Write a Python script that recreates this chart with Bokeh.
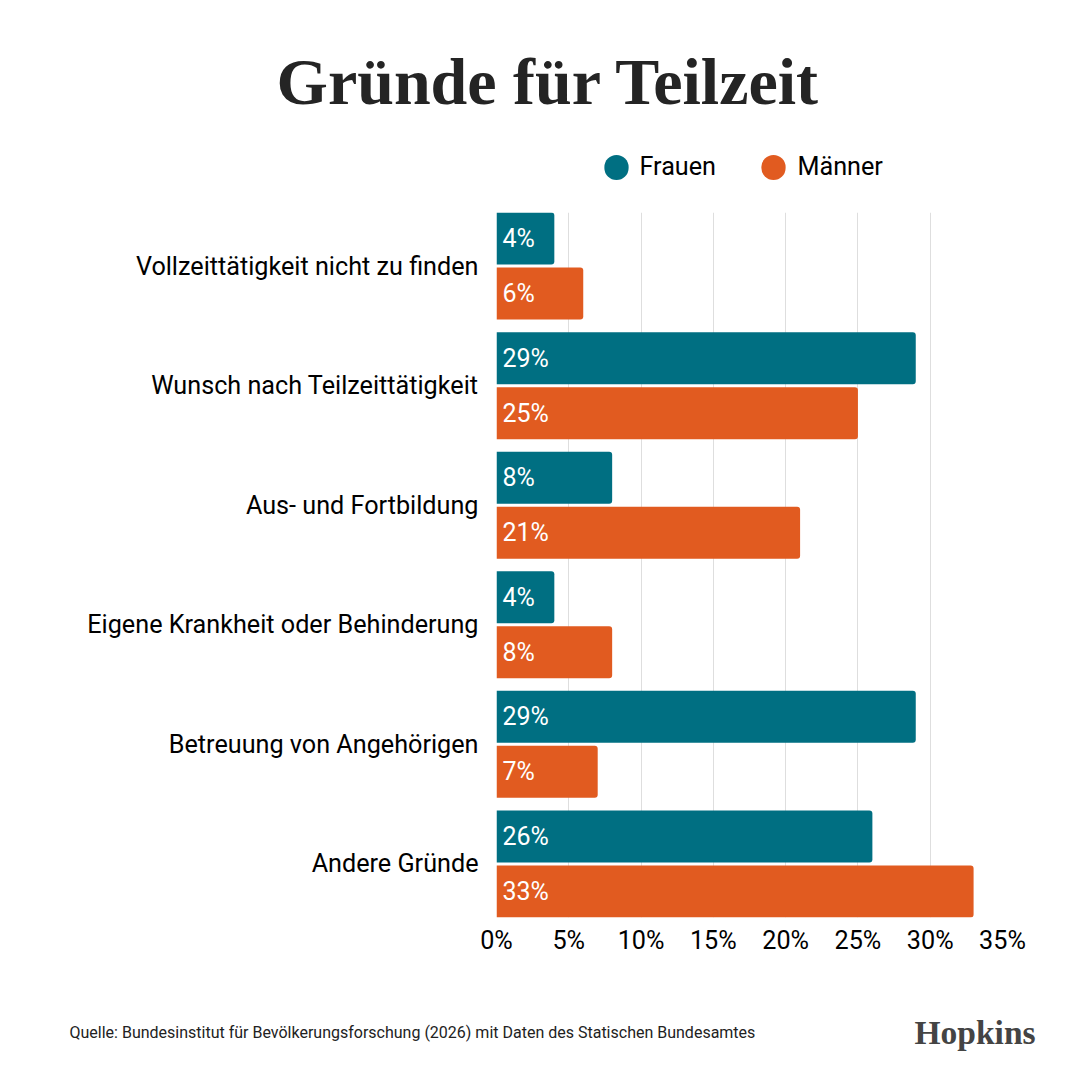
from bokeh.embed import file_html
from bokeh.resources import INLINE
from bokeh.plotting import figure
from bokeh.core.properties import value
from bokeh.models import (ColumnDataSource, FactorRange, Range1d, LabelSet, Label,
                          FixedTicker, PrintfTickFormatter)
from bokeh.transform import dodge

categories = ["Vollzeittätigkeit nicht zu finden", "Wunsch nach Teilzeittätigkeit", "Aus- und Fortbildung",
              "Eigene Krankheit oder Behinderung", "Betreuung von Angehörigen", "Andere Gründe"]
frauen = [4, 29, 8, 4, 29, 26]
maenner = [6, 25, 21, 8, 7, 33]
x_ticks = [0, 5, 10, 15, 20, 25, 30, 35]
title_text = "Gründe für Teilzeit"
source_text = "Quelle: Bundesinstitut für Bevölkerungsforschung (2026) mit Daten des Statischen Bundesamtes"
logo_text = "Hopkins"
legend_names = ["Frauen", "Männer"]

TEAL = "#006F82"
ORANGE = "#E15B20"
FONT = "Roboto"

src = ColumnDataSource(dict(
    cat=categories, frauen=frauen, maenner=maenner,
    frauen_txt=[f"{v}%" for v in frauen], maenner_txt=[f"{v}%" for v in maenner],
    zero=[0] * len(categories)))

H = 1064
p = figure(width=1064, height=H, output_backend="svg", toolbar_location=None,
           x_range=Range1d(0, 35),
           y_range=FactorRange(factors=categories[::-1], factor_padding=0, range_padding=-0.052,
                               range_padding_units="absolute"),
           min_border_left=496, min_border_right=62, min_border_top=212, min_border_bottom=147,
           background_fill_color="white", border_fill_color="white", outline_line_color=None)

OFF, BH = 0.2300, 0.4350
r1 = p.hbar(y=dodge("cat", OFF, range=p.y_range), left=0, right="frauen", height=BH, source=src,
            fill_color=TEAL, line_color=None, border_radius=(0, 3, 3, 0))
r2 = p.hbar(y=dodge("cat", -OFF, range=p.y_range), left=0, right="maenner", height=BH, source=src,
            fill_color=ORANGE, line_color=None, border_radius=(0, 3, 3, 0))

for txt, off in (("frauen_txt", OFF), ("maenner_txt", -OFF)):
    p.add_layout(LabelSet(x="zero", y=dodge("cat", off, range=p.y_range), text=txt, source=src, x_offset=6,
                          text_color="white", text_font=value(FONT), text_font_size="25px",
                          text_baseline="middle", text_align="left"))

p.xgrid.ticker = FixedTicker(ticks=x_ticks)
p.xgrid.grid_line_color = "#DEDEDE"
p.xgrid.grid_line_width = 1
p.ygrid.grid_line_color = None

xa = p.xaxis[0]
xa.ticker = FixedTicker(ticks=x_ticks)
xa.formatter = PrintfTickFormatter(format="%d%%")
ya = p.yaxis[0]
for a in (xa, ya):
    a.axis_line_color = None
    a.major_tick_line_color = None
    a.minor_tick_line_color = None
    a.major_tick_out = 0
    a.major_label_text_font = FONT
    a.major_label_text_font_size = "25.2px"
    a.major_label_text_color = "#000000"
xa.major_label_standoff = 8
ya.major_label_standoff = 18

def canvas_label(side, text, x, y, **kw):
    p.add_layout(Label(text=text, x=x, y=y, x_units="canvas", y_units="canvas", text_baseline="middle", **kw), side)

canvas_label("above", title_text, 548, 81, text_align="center", text_font="Liberation Serif", text_font_style="bold",
             text_font_size="66px", text_color="#242424")
# legend: round swatches and names
for name, color, cx, tx in ((legend_names[0], TEAL, 616, 639), (legend_names[1], ORANGE, 773, 797)):
    canvas_label("above", " ", cx, 167, text_align="center", text_font=FONT, text_font_size="1px",
                 background_fill_color=color, padding=12, border_radius=13)
    canvas_label("above", name, tx, 166, text_align="left", text_font=FONT, text_font_size="25.2px", text_color="#000000")
canvas_label("below", source_text, 69, 1032, text_align="left", text_font=FONT, text_font_size="16px", text_color="#222222")
canvas_label("below", logo_text, 914, 1032, text_align="left", text_font="Liberation Serif", text_font_style="bold",
             text_font_size="33.5px", text_color="#444444")

open("out.html", "w").write(file_html(p, INLINE))
